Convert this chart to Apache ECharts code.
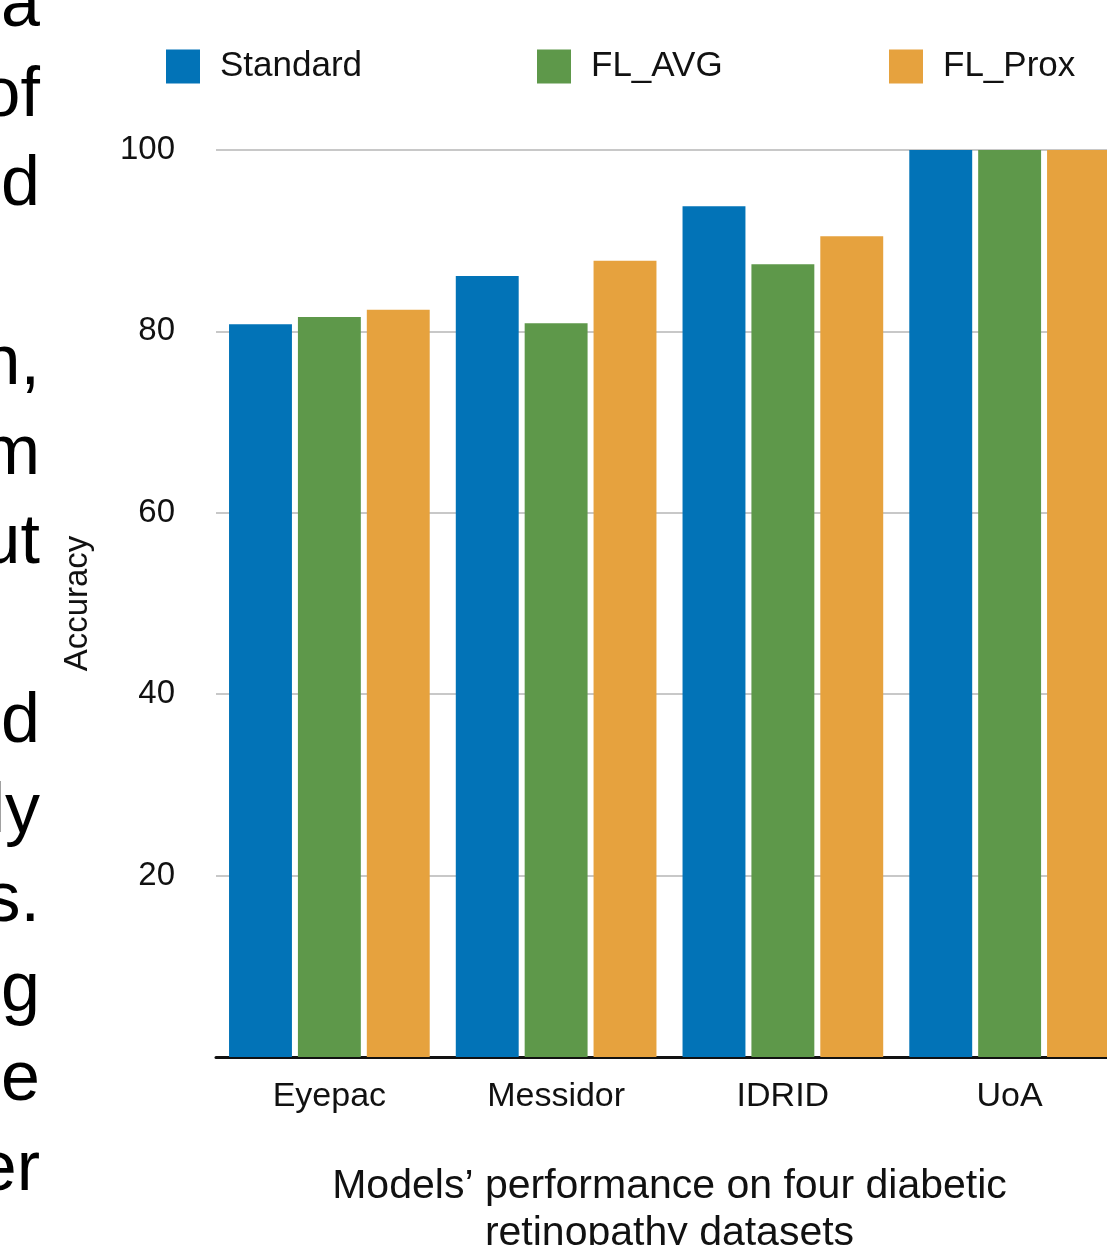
<!DOCTYPE html>
<html>
<head>
<meta charset="utf-8">
<script src="https://cdn.jsdelivr.net/npm/echarts@6/dist/echarts.min.js"></script>
<style>
html,body{margin:0;padding:0;background:#fff;}
#chart{width:1107px;height:1245px;}
</style>
</head>
<body>
<div id="chart"></div>
<script>
// ---- data ----
const categories = ['Eyepac', 'Messidor', 'IDRID', 'UoA'];
const seriesNames = ['Standard', 'FL_AVG', 'FL_Prox'];
const standard = [80.8, 86.1, 93.8, 100];
const flAvg = [81.6, 80.9, 87.4, 100];
const flProx = [82.4, 87.8, 90.5, 100];
const yTicks = [0, 20, 40, 60, 80, 100];
const yAxisTitle = 'Accuracy';
const chartCaption = 'Models\u2019 performance on four diabetic\nretinopathy datasets';
// fragments of surrounding page text visible at the left edge of the screenshot
const marginText = ['a', 'of', 'd', '', 'n,', 'm', 'ut', '', 'd', 'ly', 's.', 'g', 'e', 'er'];

const colors = ['#0273B7', '#5E984A', '#E6A23E'];
const FONT = '"Liberation Sans", Arial, Helvetica, sans-serif';
const ink = '#111';

const chart = echarts.init(document.getElementById('chart'), null, {renderer: 'canvas'});

const legendLefts = [166, 537, 889];
const option = {
  backgroundColor: '#fff',
  animation: false,
  textStyle: {fontFamily: FONT},
  legend: seriesNames.map((n, i) => ({
    data: [n],
    left: legendLefts[i],
    top: 49,
    padding: 0,
    itemWidth: 34,
    itemHeight: 34,
    icon: 'rect',
    selectedMode: false,
    textStyle: {fontSize: 35, color: ink, fontFamily: FONT, padding: [9, 0, 0, 15]}
  })),
  grid: {left: 216, top: 150, width: 907, height: 907, containLabel: false, outerBoundsMode: 'none'},
  xAxis: {
    type: 'category',
    data: categories,
    axisTick: {show: false},
    axisLine: {lineStyle: {color: ink, width: 3}},
    axisLabel: {fontSize: 34, color: ink, margin: 23, fontFamily: FONT},
    name: chartCaption,
    nameLocation: 'middle',
    nameGap: 106,
    nameTextStyle: {fontSize: 41, lineHeight: 47, color: ink, fontFamily: FONT}
  },
  yAxis: {
    type: 'value',
    min: yTicks[0],
    max: yTicks[yTicks.length - 1],
    interval: yTicks[1] - yTicks[0],
    axisLine: {show: false},
    axisTick: {show: false},
    splitLine: {lineStyle: {color: '#c8c8c8', width: 2}},
    axisLabel: {fontSize: 33, color: ink, margin: 41, fontFamily: FONT, showMinLabel: false,
      padding: [6, 0, 0, 0],
      formatter: v => (v === 0 ? '' : String(v))},
    name: yAxisTitle,
    nameLocation: 'middle',
    nameRotate: 90,
    nameGap: 122,
    nameTextStyle: {fontSize: 33, color: ink, fontFamily: FONT}
  },
  series: [standard, flAvg, flProx].map((d, i) => ({
    name: seriesNames[i],
    type: 'bar',
    data: d,
    itemStyle: {color: colors[i]},
    barGap: '9.5%',
    barCategoryGap: '11.5%'
  })),
  graphic: [{
    type: 'text',
    x: 40,
    y: -38,
    style: {
      text: marginText.join('\n'),
      align: 'right',
      verticalAlign: 'top',
      font: '70px ' + FONT,
      lineHeight: 89.5,
      fill: '#000'
    },
    silent: true
  }]
};
chart.setOption(option);
</script>
</body>
</html>
